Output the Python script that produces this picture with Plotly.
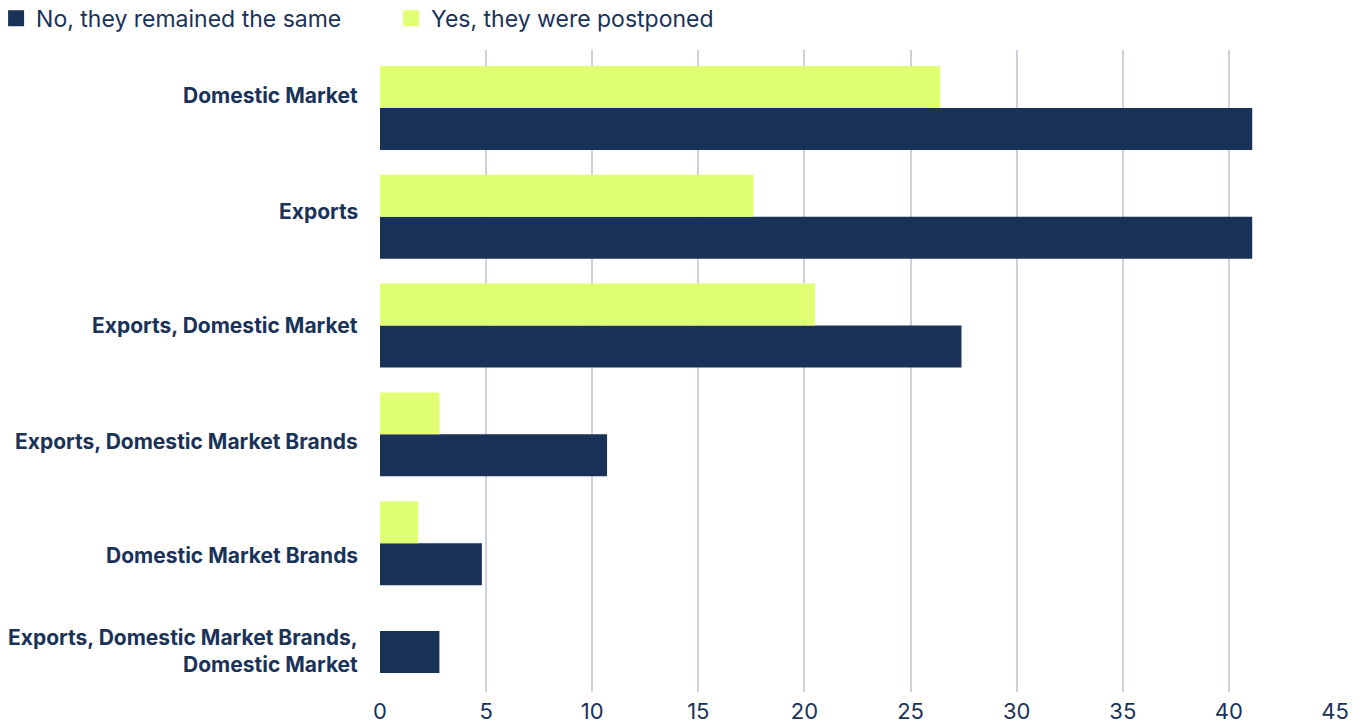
import plotly.graph_objects as go

# Survey answers by sales channel (share of respondents, %)
channels = [
    "Domestic Market",
    "Exports",
    "Exports, Domestic Market",
    "Exports, Domestic Market Brands",
    "Domestic Market Brands",
    "Exports, Domestic Market Brands,<br>Domestic Market",
]
remained_same = [41.1, 41.1, 27.4, 10.7, 4.8, 2.8]
postponed = [26.4, 17.6, 20.5, 2.8, 1.8, None]
x_ticks = [0, 5, 10, 15, 20, 25, 30, 35, 40, 45]

series_names = ["No, they remained the same", "Yes, they were postponed"]

NAVY = "#1a3258"
LIME = "#e1ff73"
GRID = "#cdd1dc"
FONT = "Inter"

BAR_W = 0.386
# channel with only one answer gets its bar centred in the band
navy_offset = [0 if p is not None else -BAR_W / 2 for p in postponed]
lime_offset = [-BAR_W] * len(channels)

# small vertical nudges (px) for the category labels
label_shift = [12, 5, 0, -7, -12, 1]

fig = go.Figure()
for name, values, color, offs in [
    (series_names[0], remained_same, NAVY, navy_offset),
    (series_names[1], postponed, LIME, lime_offset),
]:
    fig.add_trace(go.Bar(
        name=name, y=channels, x=values, orientation="h",
        marker=dict(color=color, line=dict(width=0)),
        width=BAR_W, offset=offs, showlegend=False, legendgroup=name,
        hovertemplate="%{y}: %{x}<extra>" + name + "</extra>",
    ))
    # square legend key
    fig.add_trace(go.Scatter(
        name=name, x=[None], y=[None], mode="markers", legendgroup=name,
        marker=dict(symbol="square", size=20, color=color), hoverinfo="skip",
    ))

annotations = [
    dict(
        text=f"<b>{name}</b>", x=0, xref="paper", xanchor="right", xshift=-20,
        y=name, yref="y", yanchor="middle", yshift=shift,
        showarrow=False, align="right",
        font=dict(family=FONT, size=21, color=NAVY),
    )
    for name, shift in zip(channels, label_shift)
]

fig.update_layout(
    width=1372, height=727,
    margin=dict(l=380, r=37, t=50, b=35, autoexpand=False),
    paper_bgcolor="white", plot_bgcolor="white",
    barmode="overlay",
    showlegend=True,
    legend=dict(
        orientation="h",
        x=-0.402, y=1.083, xanchor="left", yanchor="top",
        font=dict(family=FONT, size=23, color=NAVY),
        entrywidth=350, entrywidthmode="pixels", itemsizing="trace",
        traceorder="normal", bgcolor="rgba(0,0,0,0)",
    ),
    xaxis=dict(
        range=[0, 45], tickvals=x_ticks, showgrid=True, gridcolor=GRID, gridwidth=2,
        zeroline=False, showline=False, ticks="", automargin=False,
        ticklabelstandoff=4,
        tickfont=dict(family=FONT, size=22, color=NAVY),
    ),
    yaxis=dict(
        categoryorder="array", categoryarray=channels,
        range=[5.368, -0.533], showticklabels=False, showgrid=False,
        zeroline=False, showline=False, ticks="", automargin=False,
    ),
    annotations=annotations,
    font=dict(family=FONT, color=NAVY),
)

fig.write_html("out.html")
